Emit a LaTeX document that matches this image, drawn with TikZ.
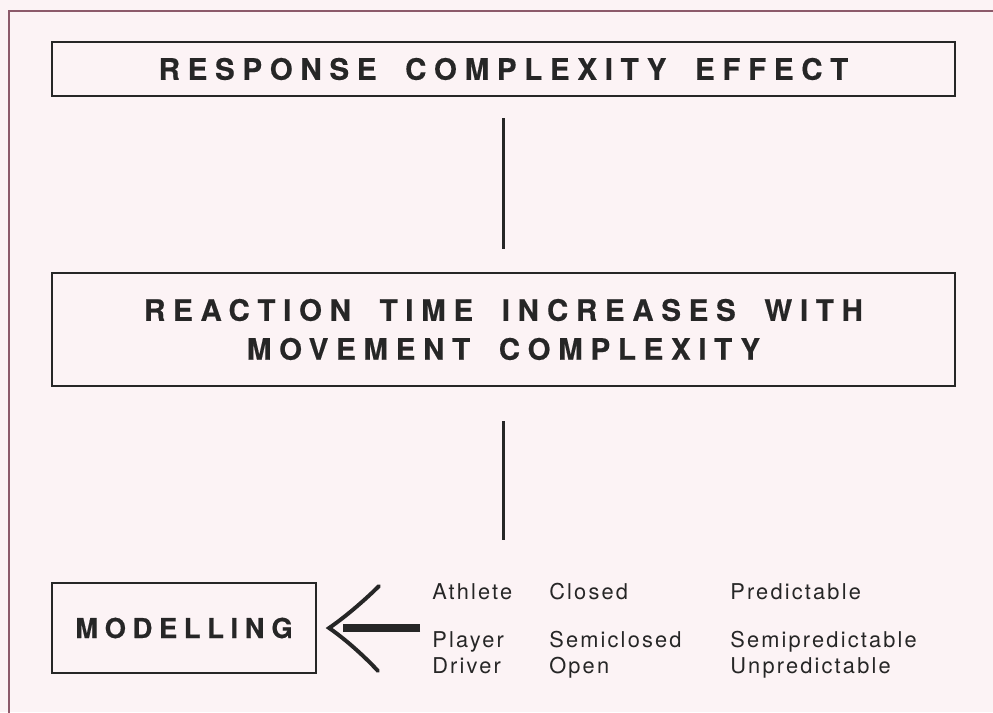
\documentclass[tikz,border=0pt]{standalone}
\usepackage{fontspec}
\setmainfont{TeX Gyre Heros}
\newfontfamily\headfont[LetterSpace=26,WordSpace=1.8,FakeBold=0.4]{TeX Gyre Heros}
\newfontfamily\boxfont[LetterSpace=24,FakeBold=0.4]{TeX Gyre Heros}
\newfontfamily\listfont[LetterSpace=10]{TeX Gyre Heros}
\definecolor{paper}{HTML}{FCF3F5}
\definecolor{framecol}{HTML}{8C5A6A}
\definecolor{ink}{HTML}{262626}
\tikzset{
    headbox/.style={draw=ink,line width=1.5pt,rectangle,inner sep=0pt,text=ink,align=center,
        font=\headfont\bfseries\fontsize{21}{27.7}\selectfont},
    listtext/.style={anchor=base west,inner sep=0pt,text=ink,font=\listfont\fontsize{15.5}{18}\selectfont},
    link/.style={draw=ink,line width=1.6pt}
}
\begin{document}
\begin{tikzpicture}[x=0.025cm,y=-0.025cm]
        \useasboundingbox[fill=paper](0,0)rectangle(993,712);
        \draw[framecol,line width=1pt](9,730)--(9,11)--(1010,11);

        \node[headbox,minimum width=22.575cm,minimum height=1.35cm](effect)at(503.5,69){RESPONSE COMPLEXITY EFFECT};
        \node[headbox,minimum width=22.575cm,minimum height=2.825cm](rule)at(503.5,329.5){REACTION TIME INCREASES WITH\\MOVEMENT COMPLEXITY};
        \node[headbox,minimum width=6.6cm,minimum height=2.25cm,font=\boxfont\bfseries\fontsize{19.5}{24}\selectfont](model)at(184,628){MODELLING};
        \coordinate(stem)at(503.5,540);

        \draw[link,shorten <=0.525cm,shorten >=0.575cm](effect.south)--(rule.north);
        \draw[link,shorten <=0.85cm](rule.south)--(stem);

        \node[listtext](athlete)at(432,599){Athlete};
        \node[listtext](closed)at(549,599){Closed};
        \node[listtext](predictable)at(730,599){Predictable};
        \node[listtext](player)at(432,647){Player};
        \node[listtext](semiclosed)at(549,647){Semiclosed};
        \node[listtext](semipredictable)at(730,647){Semipredictable};
        \node[listtext](driver)at(432,673){Driver};
        \node[listtext](open)at(549,673){Open};
        \node[listtext](unpredictable)at(730,673){Unpredictable};

        % open arrow from the list to the box
        \coordinate(tip)at([xshift=0.3cm]model.east);
        \coordinate(shaft)at([xshift=-0.3cm]player.west|-model.east);
        \draw[ink,line width=5pt,shorten >=0.35cm](shaft)--(tip);
        \draw[ink,line width=2.8pt,line cap=round,line join=miter](379,586)..controls(368,597)and(348,615)..(tip)
            ..controls(348,641)and(368,660)..(378,671);
    \end{tikzpicture}
\end{document}
